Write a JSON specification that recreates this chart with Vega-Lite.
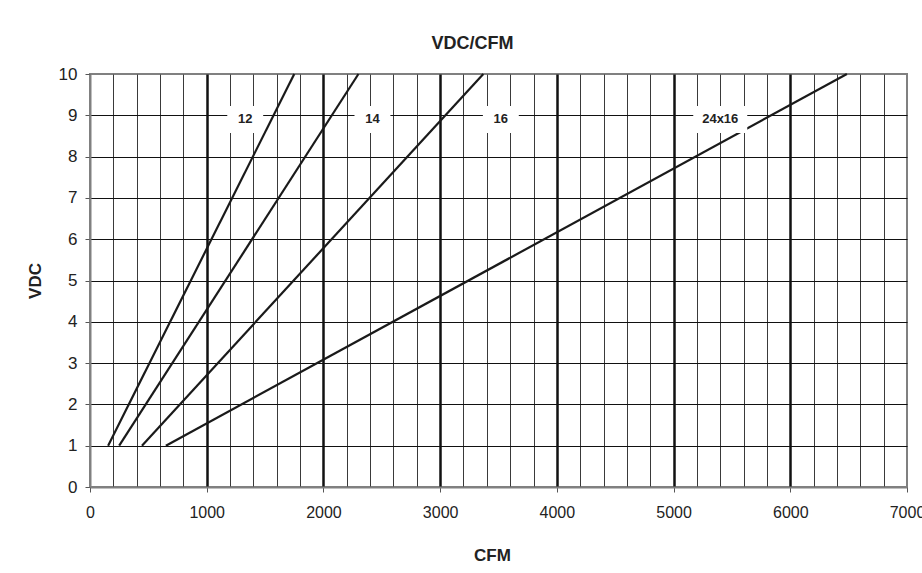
{
  "$schema": "https://vega.github.io/schema/vega-lite/v6.json",
  "width": 817,
  "height": 413,
  "autosize": {"type": "none"},
  "padding": {"left": 90, "top": 74, "right": 15, "bottom": 86},
  "background": "white",
  "title": {"text": "VDC/CFM", "font": "Liberation Sans", "fontSize": 18, "fontWeight": "bold", "color": "#222", "offset": 12, "dx": -26},
  "config": {
    "view": {"stroke": "#808080", "strokeWidth": 2},
    "axis": {
      "labelFont": "Liberation Sans",
      "labelFontSize": 16,
      "labelColor": "#222",
      "labelOverlap": false,
      "titleFont": "Liberation Sans",
      "titleFontSize": 17,
      "titleFontWeight": "bold",
      "titleColor": "#222",
      "domainColor": "#808080",
      "domainWidth": 2,
      "tickColor": "#555",
      "tickSize": 5
    }
  },
  "datasets": {
    "lines": [
      {"series": "12", "cfm": 155, "vdc": 1},
      {"series": "12", "cfm": 1750, "vdc": 10},
      {"series": "14", "cfm": 250, "vdc": 1},
      {"series": "14", "cfm": 2300, "vdc": 10},
      {"series": "16", "cfm": 445, "vdc": 1},
      {"series": "16", "cfm": 3370, "vdc": 10},
      {"series": "24x16", "cfm": 650, "vdc": 1},
      {"series": "24x16", "cfm": 6485, "vdc": 10}
    ],
    "labels": [
      {"label": "12", "cfm": 1330, "vdc": 8.9},
      {"label": "14", "cfm": 2420, "vdc": 8.9},
      {"label": "16", "cfm": 3520, "vdc": 8.9},
      {"label": "24x16", "cfm": 5400, "vdc": 8.9}
    ]
  },
  "layer": [
    {
      "data": {"name": "lines"},
      "mark": {"type": "line", "color": "#1a1a1a", "strokeWidth": 2.2},
      "encoding": {
        "x": {
          "field": "cfm", "type": "quantitative",
          "scale": {"domain": [0, 7000], "nice": false},
          "axis": {
            "values": [0,200,400,600,800,1000,1200,1400,1600,1800,2000,2200,2400,2600,2800,3000,3200,3400,3600,3800,4000,4200,4400,4600,4800,5000,5200,5400,5600,5800,6000,6200,6400,6600,6800,7000],
            "tickCount": 50,
            "format": "d",
            "labelExpr": "datum.value % 1000 === 0 ? datum.label : ''",
            "labelPadding": 12,
            "labelOverlap": false,
            "labelFlush": false,
            "grid": true,
            "gridColor": {"condition": {"test": "datum.value % 1000 === 0", "value": "#111"}, "value": "#3a3a3a"},
            "gridWidth": {"condition": {"test": "datum.value % 1000 === 0", "value": 2.5}, "value": 1},
            "gridOpacity": {"condition": {"test": "datum.value === 7000 || datum.value === 0", "value": 0}, "value": 1},
            "tickOpacity": {"condition": {"test": "datum.value % 1000 === 0", "value": 1}, "value": 0},
            "title": "CFM",
            "titleX": 402,
            "titleY": 73,
            "titleAlign": "center",
            "titleBaseline": "alphabetic"
          }
        },
        "y": {
          "field": "vdc", "type": "quantitative",
          "scale": {"domain": [0, 10], "nice": false},
          "axis": {
            "values": [0,1,2,3,4,5,6,7,8,9,10],
            "tickCount": 20,
            "format": "d",
            "labelPadding": 8,
            "labelOverlap": false,
            "labelFontSize": 17,
            "grid": true,
            "gridColor": "#111",
            "gridWidth": 1,
            "gridOpacity": {"condition": {"test": "datum.value === 10 || datum.value === 0", "value": 0}, "value": 1},
            "title": "VDC",
            "titleX": -55,
            "titleY": 206.5,
            "titleAngle": -90,
            "titleAlign": "center",
            "titleBaseline": "middle"
          }
        },
        "detail": {"field": "series"}
      }
    },
    {
      "data": {"name": "labels"},
      "mark": {"type": "point", "filled": true, "color": "white", "opacity": 1, "strokeWidth": 0, "size": 729},
      "encoding": {
        "x": {"field": "cfm", "type": "quantitative"},
        "y": {"field": "vdc", "type": "quantitative"},
        "shape": {"condition": {"test": "datum.label === '24x16'", "value": "M-2,-1H2V1H-2Z"}, "value": "M-1.33,-1H1.33V1H-1.33Z"}
      }
    },
    {
      "data": {"name": "labels"},
      "mark": {"type": "text", "font": "Liberation Sans", "fontSize": 13, "fontWeight": "bold", "color": "#222", "align": "center", "baseline": "middle"},
      "encoding": {
        "x": {"field": "cfm", "type": "quantitative"},
        "y": {"field": "vdc", "type": "quantitative"},
        "text": {"field": "label"}
      }
    }
  ]
}
